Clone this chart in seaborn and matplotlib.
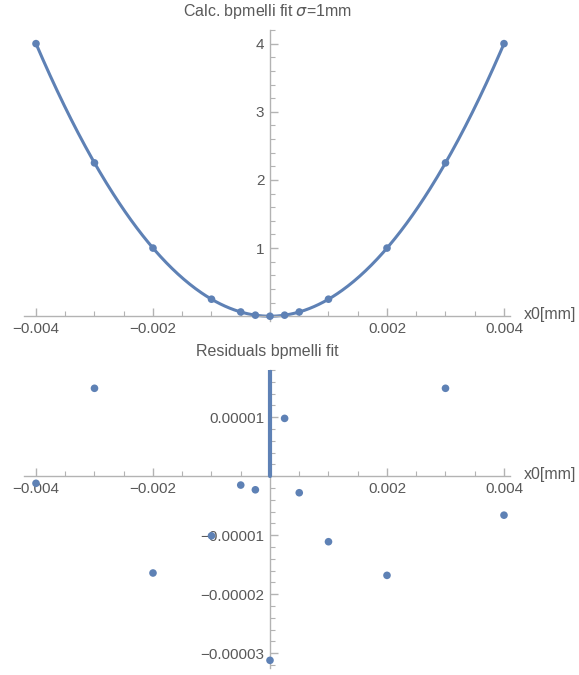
import numpy as np
import pandas as pd
import matplotlib
matplotlib.use("Agg")
import matplotlib.pyplot as plt
from matplotlib.ticker import MultipleLocator, FixedLocator, FuncFormatter
import seaborn as sns

# offsets x0 [mm]
x0 = [-0.004, -0.003, -0.002, -0.001, -0.0005, -0.00025, 0.0,
      0.00025, 0.0005, 0.001, 0.002, 0.003, 0.004]
# calculated values
calc = [4.0, 2.25, 1.0, 0.25, 0.0625, 0.015625, 0.0,
        0.015625, 0.0625, 0.25, 1.0, 2.25, 4.0]
# residuals of the fit
resid = [-1.2e-6, 1.49e-5, -1.64e-5, -1.01e-5, -1.5e-6, -2.3e-6, -3.12e-5,
         9.8e-6, -2.8e-6, -1.11e-5, -1.68e-5, 1.49e-5, -6.6e-6]

top_xticks = [-0.004, -0.002, 0.002, 0.004]
top_yticks = [1, 2, 3, 4]
bot_yticks = [0.00001, -0.00001, -0.00002, -0.00003]

BLUE = "#5E81B5"
AXC = "#b3b3b3"
TXT = "#595959"

sns.set_style("white")
plt.rcParams["font.family"] = ["Liberation Sans", "DejaVu Sans"]
plt.rcParams["mathtext.fontset"] = "dejavusans"

df = pd.DataFrame({"x0": x0, "calc": calc, "resid": resid})

# quadratic fit through the calculated points
coef = np.polyfit(df["x0"], df["calc"], 2)
xs = np.linspace(min(x0), max(x0), 400)
fit = pd.DataFrame({"x0": xs, "y": np.polyval(coef, xs)})

W, H = 579, 675
fig = plt.figure(figsize=(W / 100, H / 100), dpi=100)
fig.patch.set_facecolor("white")

XL = (-0.004205, 0.0041026)


def frac(l, t, r, b):
    return [l / W, 1 - b / H, (r - l) / W, (b - t) / H]


def style(ax, xminor, yminor):
    for s in ("top", "right"):
        ax.spines[s].set_visible(False)
    for s in ("left", "bottom"):
        ax.spines[s].set_position(("data", 0))
        ax.spines[s].set_color(AXC)
        ax.spines[s].set_linewidth(1.0)
    ax.xaxis.set_minor_locator(MultipleLocator(xminor))
    ax.yaxis.set_minor_locator(MultipleLocator(yminor))
    ax.tick_params(which="both", bottom=True, left=True, top=False,
                   right=False)
    ax.tick_params(which="major", direction="in", length=6, width=1,
                   color=AXC, labelcolor=TXT, labelsize=11, pad=4)
    ax.tick_params(which="minor", direction="in", length=3.5, width=0.8,
                   color=AXC)
    ax.set_xlabel("")
    ax.set_ylabel("")
    ax.set_facecolor("white")
    ax.grid(False)


def fmt(v, pos):
    s = ("%.5f" % v).rstrip("0").rstrip(".")
    return s.replace("-", "\u2212")


def axis_label(ax):
    ax.annotate("x0[mm]", xy=(1, 0), xycoords=("axes fraction", "data"),
                xytext=(10, 1), textcoords="offset points", va="center",
                ha="left", color=TXT, fontsize=11.5, annotation_clip=False)


# --- calculated values with fit ---
ax1 = fig.add_axes(frac(24, 30, 510, 321))
sns.lineplot(data=fit, x="x0", y="y", ax=ax1, color=BLUE, lw=2.2)
sns.scatterplot(data=df, x="x0", y="calc", ax=ax1, color=BLUE, s=30,
                edgecolor="none", zorder=5, clip_on=False)
ax1.set_xlim(*XL)
ax1.set_ylim(-0.07, 4.2)
ax1.xaxis.set_major_locator(FixedLocator(top_xticks))
ax1.yaxis.set_major_locator(FixedLocator(top_yticks))
ax1.xaxis.set_major_formatter(FuncFormatter(fmt))
ax1.yaxis.set_major_formatter(FuncFormatter(fmt))
style(ax1, 0.0005, 0.2)
ax1.set_title("Calc. bpmelli fit $\\sigma$=1mm", color=TXT, fontsize=11.5,
              pad=10)
axis_label(ax1)

# --- residuals ---
ax2 = fig.add_axes(frac(24, 370, 510, 668))
ax2.set_xlim(*XL)
ylim2 = (-3.25e-5, 1.8e-5)
ax2.set_ylim(*ylim2)
ax2.plot([0, 0], [0, ylim2[1]], color=BLUE, lw=3, zorder=4)
sns.scatterplot(data=df, x="x0", y="resid", ax=ax2, color=BLUE, s=30,
                edgecolor="none", zorder=5, clip_on=False)
ax2.xaxis.set_major_locator(FixedLocator(top_xticks))
ax2.yaxis.set_major_locator(FixedLocator(bot_yticks))
ax2.xaxis.set_major_formatter(FuncFormatter(fmt))
ax2.yaxis.set_major_formatter(FuncFormatter(fmt))
style(ax2, 0.0005, 2e-6)
ax2.set_title("Residuals bpmelli fit", color=TXT, fontsize=11.5, pad=10)
axis_label(ax2)

fig.savefig("out.png", dpi=100, facecolor="white")
